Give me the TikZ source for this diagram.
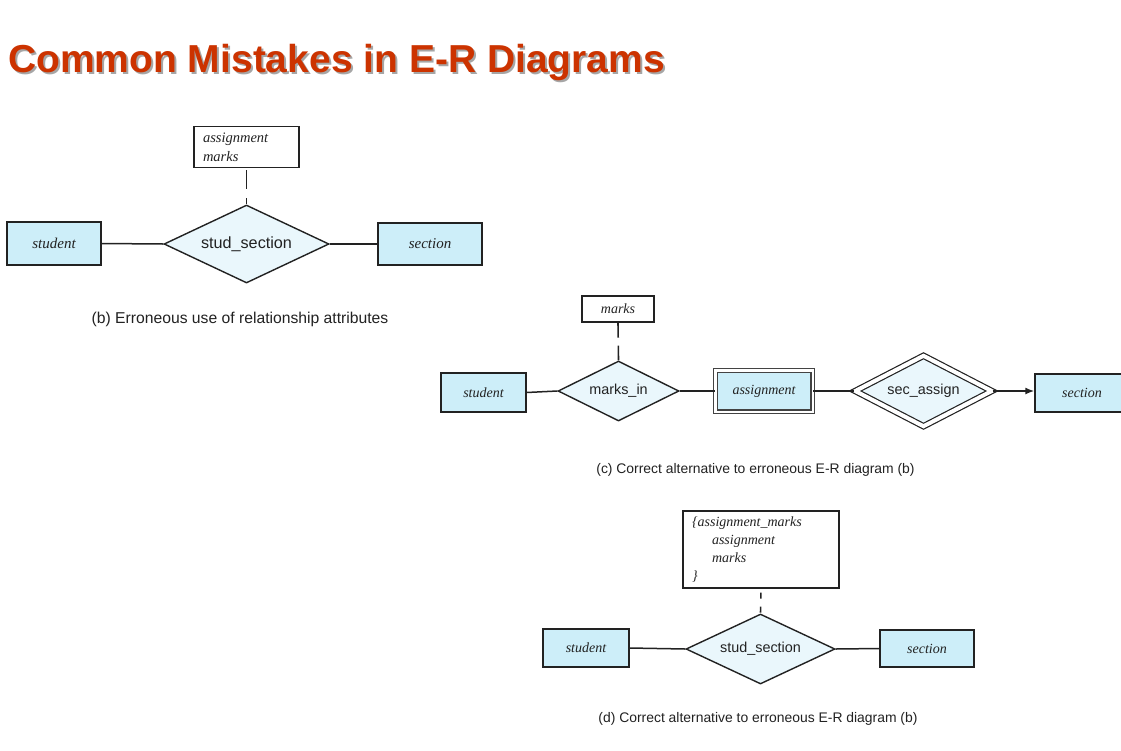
\documentclass[tikz,border=0pt]{standalone}
\usepackage{fontspec}
\setmainfont{Liberation Serif}
\setsansfont{Liberation Sans}
\usetikzlibrary{shapes.geometric,arrows.meta}
\definecolor{entfill}{HTML}{CDEEF9}
\definecolor{relfill}{HTML}{EAF7FC}
\definecolor{ink}{HTML}{222222}
\definecolor{titlered}{HTML}{CC3300}
\begin{document}
\begin{tikzpicture}[x=1pt,y=-1pt,
  entity/.style={draw=ink, line width=1.4pt, fill=entfill, rectangle, inner sep=0pt,
    font=\fontsize{14}{16}\selectfont\itshape, text=ink},
  rel/.style={draw=ink, line width=1.4pt, fill=relfill, diamond, inner sep=0pt,
    font=\sffamily\fontsize{14.4}{16}\selectfont, text=ink},
  attr/.style={draw=ink, line width=1.3pt, fill=white, rectangle, inner ysep=0pt, inner xsep=9pt,
    align=left, font=\fontsize{14.5}{19}\selectfont\itshape, text=ink},
  conn/.style={draw=ink, line width=1.5pt},
  dashconn/.style={draw=ink, line width=1.6pt},
  caption/.style={font=\sffamily\fontsize{13.9}{16}\selectfont, text=ink, inner sep=0pt}
]
\useasboundingbox[fill=white] (0,0) rectangle (1121,750);

% title
\node[anchor=base west, inner sep=0pt, text=black!35,
  font=\sffamily\bfseries\fontsize{39}{44}\selectfont] (titleshadow) at (10,74) {Common Mistakes in E-R Diagrams};
\node[anchor=base west, inner sep=0pt, text=titlered,
  font=\sffamily\bfseries\fontsize{39}{44}\selectfont] (title) at (8,72) {Common Mistakes in E-R Diagrams};

% ---------- (b)
\node[attr, text width=87pt, minimum width=105pt, minimum height=41pt] (battr) at (246.5,147) {assignment\\marks};
\node[rel, aspect=2.115, minimum width=165pt, minimum height=78pt, font=\sffamily\fontsize{16.2}{18}\selectfont] (bdia) at (246.5,244) {stud\_section};
\node[entity, minimum width=94pt, minimum height=43pt, font=\fontsize{15}{17}\selectfont\itshape] (bstu) at (54,243.5) {student};
\node[entity, minimum width=104pt, minimum height=42pt, font=\fontsize{15}{17}\selectfont\itshape] (bsec) at (430,244) {section};
\draw[conn] (bstu.east) -- (bdia.west);
\draw[conn] (bdia.east) -- (bsec.west);
\draw[dashconn, dash pattern=on 19pt off 9pt, dash phase=-2pt] (battr.south) -- (bdia.north);
\node[caption, font=\sffamily\fontsize{15.7}{18}\selectfont] (bcap) at (240,319) {(b) Erroneous use of relationship attributes};

% ---------- (c)
\node[attr, minimum width=72pt, minimum height=26pt, font=\fontsize{14}{16}\selectfont\itshape] (cattr) at (618,309) {marks};
\node[rel, aspect=2.017, minimum width=121pt, minimum height=60pt] (cdia) at (618.5,391) {marks\_in};
\node[entity, minimum width=85pt, minimum height=39pt] (cstu) at (483.5,392.5) {student};
\node[entity, double=white, double distance=2.5pt, line width=1.1pt, draw=ink!85,
  minimum width=97.5pt, minimum height=41.5pt] (cass) at (764,391) {assignment};
\node[rel, aspect=1.93, double=white, double distance=4pt, line width=1.2pt,
  minimum width=137pt, minimum height=71pt] (csa) at (923.5,391) {sec\_assign};
\node[entity, minimum width=94pt, minimum height=38pt] (csec) at (1082,393) {section};
\draw[conn] (cstu.east) -- (cdia.west);
\draw[conn] (cdia.east) -- (cass.west);
\draw[conn] (cass.east) -- (csa.west);
\draw[conn, -{Latex[length=9pt,width=7pt]}] (csa.east) -- (csa.east -| csec.west);
\draw[dashconn, dash pattern=on 15pt off 8pt] (cattr.south) -- (cdia.north);
\node[caption] (ccap) at (755.5,470) {(c) Correct alternative to erroneous E-R diagram (b)};

% ---------- (d)
\node[attr, text width=138pt, minimum width=156pt, minimum height=77pt, font=\fontsize{14}{18}\selectfont\itshape] (dattr) at (761,549.5)
  {\{assignment\_marks\\\hspace*{20pt}assignment\\\hspace*{20pt}marks\\\}};
\node[rel, aspect=2.13, minimum width=149pt, minimum height=70pt] (ddia) at (760.5,649) {stud\_section};
\node[entity, minimum width=86pt, minimum height=38pt] (dstu) at (586,648) {student};
\node[entity, minimum width=94pt, minimum height=37pt] (dsec) at (927,648.5) {section};
\draw[conn] (dstu.east) -- (ddia.west);
\draw[conn] (ddia.east) -- (dsec.west);
\draw[dashconn, dash pattern=on 6pt off 8pt, dash phase=-4pt] (dattr.south) -- (ddia.north);
\node[caption] (dcap) at (758,719) {(d) Correct alternative to erroneous E-R diagram (b)};
\end{tikzpicture}
\end{document}
